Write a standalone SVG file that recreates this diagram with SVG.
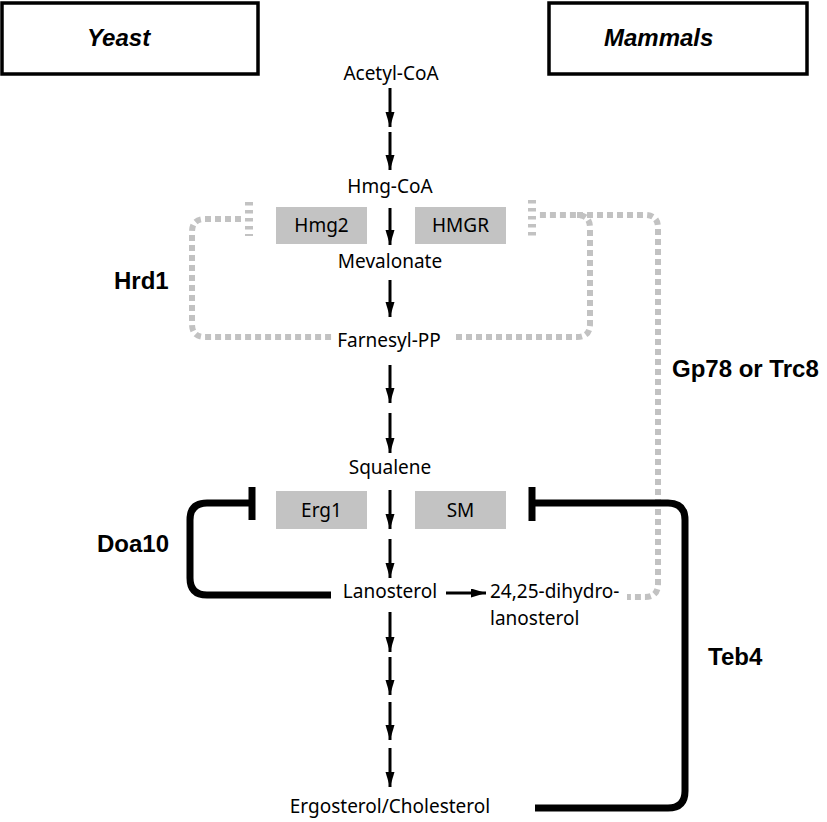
<svg xmlns="http://www.w3.org/2000/svg" width="827" height="822" viewBox="0 0 827 822">
<defs>
<style>
.bg{fill:#ffffff}
.hdr{fill:#ffffff;stroke:#000;stroke-width:3.5}
.hdrt{font-family:"Liberation Sans",Arial,sans-serif;font-size:24px;font-weight:bold;font-style:italic;fill:#000}
.met{font-family:"Noto Sans","Open Sans",sans-serif;font-size:19px;fill:#000}
.enz{fill:#c3c3c3}
.lab{font-family:"Liberation Sans",Arial,sans-serif;font-size:24px;font-weight:bold;fill:#000}
.arr{stroke:#000;stroke-width:3;fill:none;marker-end:url(#ah)}
.gray{stroke:#c2c2c2;stroke-width:6;fill:none;stroke-dasharray:6 4}
.tick{stroke:#c2c2c2;stroke-width:8;fill:none;stroke-dasharray:3.5 4.5}
.blk{stroke:#000;stroke-width:7;fill:none}
</style>
<marker id="ah" markerUnits="userSpaceOnUse" markerWidth="16" markerHeight="10" refX="15" refY="4.5" orient="auto">
<path d="M0,0 L15,4.5 L0,9 Z" fill="#000"/>
</marker>
</defs>
<rect class="bg" x="0" y="0" width="827" height="822"/>

<g id="yeast">
<rect class="hdr" x="2" y="3" width="256" height="71"/>
<text class="hdrt" x="87" y="46">Yeast</text>
</g>
<g id="mammals">
<rect class="hdr" x="549" y="3" width="258" height="71"/>
<text class="hdrt" x="604" y="46">Mammals</text>
</g>

<g id="acetyl-coa"><text class="met" x="391" y="80" text-anchor="middle">Acetyl-CoA</text></g>
<g id="hmg-coa"><text class="met" x="390" y="193" text-anchor="middle">Hmg-CoA</text></g>
<g id="hmg2"><rect class="enz" x="276" y="207" width="91" height="37"/><text class="met" x="321.5" y="232" text-anchor="middle">Hmg2</text></g>
<g id="hmgr"><rect class="enz" x="415" y="207" width="91" height="37"/><text class="met" x="460.5" y="232" text-anchor="middle">HMGR</text></g>
<g id="mevalonate"><text class="met" x="390" y="268" text-anchor="middle">Mevalonate</text></g>
<g id="farnesyl-pp"><text class="met" x="389" y="347" text-anchor="middle">Farnesyl-PP</text></g>
<g id="squalene"><text class="met" x="390" y="474" text-anchor="middle">Squalene</text></g>
<g id="erg1"><rect class="enz" x="276" y="491" width="91" height="38"/><text class="met" x="321.5" y="516.5" text-anchor="middle">Erg1</text></g>
<g id="sm"><rect class="enz" x="415" y="491" width="91" height="38"/><text class="met" x="460.5" y="516.5" text-anchor="middle">SM</text></g>
<g id="lanosterol"><text class="met" x="390" y="598" text-anchor="middle">Lanosterol</text></g>
<g id="dihydrolanosterol"><text class="met" x="490" y="598">24,25-dihydro-</text><text class="met" x="490" y="625">lanosterol</text></g>
<g id="ergosterol"><text class="met" x="390" y="813" text-anchor="middle">Ergosterol/Cholesterol</text></g>

<g id="hrd1"><text class="lab" x="114" y="289">Hrd1</text></g>
<g id="gp78"><text class="lab" x="672" y="377">Gp78 or Trc8</text></g>
<g id="doa10"><text class="lab" x="97" y="552">Doa10</text></g>
<g id="teb4"><text class="lab" x="708" y="665">Teb4</text></g>

<g id="connectors">
<line class="arr" x1="390" y1="88" x2="390" y2="127"/>
<line class="arr" x1="390" y1="132" x2="390" y2="170"/>
<line class="arr" x1="390" y1="208" x2="390" y2="245"/>
<line class="arr" x1="390" y1="280" x2="390" y2="317"/>
<line class="arr" x1="390" y1="365" x2="390" y2="403"/>
<line class="arr" x1="390" y1="413" x2="390" y2="453"/>
<line class="arr" x1="390" y1="490" x2="390" y2="529"/>
<line class="arr" x1="390" y1="539" x2="390" y2="578"/>
<line class="arr" x1="446" y1="593" x2="486" y2="593"/>
<line class="arr" x1="390" y1="612" x2="390" y2="652"/>
<line class="arr" x1="390" y1="657" x2="390" y2="695"/>
<line class="arr" x1="390" y1="702" x2="390" y2="740"/>
<line class="arr" x1="390" y1="748" x2="390" y2="787"/>

<line class="tick" x1="249" y1="202" x2="249" y2="236"/>
<line class="tick" x1="532" y1="200" x2="532" y2="236"/>
<path class="gray" d="M241 219 H205 Q192 219 192 232 V324 Q192 337 205 337 H333"/>
<path class="gray" d="M456 337 H577 Q590 337 590 324 V228 Q590 215 577 215 H539"/>
<path class="gray" d="M577 215 H645 Q658 215 658 228 V584 Q658 597 645 597 H627"/>

<line class="blk" x1="252" y1="487" x2="252" y2="520"/>
<path class="blk" d="M252 503 H207 Q190 503 190 520 V578 Q190 595 207 595 H331"/>
<line class="blk" x1="532" y1="487" x2="532" y2="521"/>
<path class="blk" d="M532 503 H668 Q685 503 685 520 V791 Q685 808 668 808 H535"/>
</g>
</svg>
